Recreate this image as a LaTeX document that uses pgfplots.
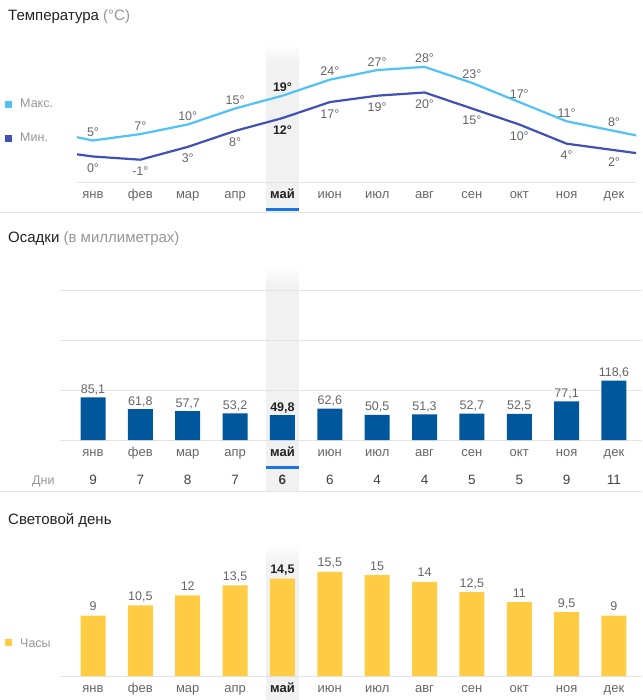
\documentclass[border=0pt]{standalone}
\usepackage{fontspec}
\setmainfont{Liberation Sans}
\usepackage{pgfplots}
\pgfplotsset{compat=1.18}

\definecolor{maxc}{RGB}{79,195,247}
\definecolor{minc}{RGB}{63,81,181}
\definecolor{rainc}{RGB}{1,87,155}
\definecolor{sunc}{RGB}{255,204,68}
\definecolor{bandc}{RGB}{241,241,241}
\definecolor{linec}{RGB}{228,228,228}
\definecolor{lab}{RGB}{102,102,102}
\definecolor{dark}{RGB}{34,34,34}
\definecolor{light}{RGB}{150,150,150}
\definecolor{selc}{RGB}{26,115,232}

\newcommand{\fs}[1]{\fontsize{#1}{#1}\selectfont}

\pgfplotsset{
  panel/.style={
    scale only axis, clip=false,
    axis line style={draw=none},
    major tick length=0,
    xtick={0,...,11},
    xticklabels={янв,фев,мар,апр,{\color{dark}\bfseries май},июн,июл,авг,сен,окт,ноя,дек},
    xticklabel style={anchor=base, yshift=-16pt, font=\fs{13}, text=lab},
    yticklabels={},
    ymajorgrids,
    major grid style={draw=linec, line width=1pt},
  },
  vals/.style={draw=none, no marks, nodes near coords, point meta=explicit symbolic,
    nodes near coords style={anchor=base, font=\fs{12.5}, text=lab}},
}

\begin{document}
\begin{tikzpicture}
\begin{scope}[x=1pt,y=1pt]
\fill[white] (0,0) rectangle (642,-700);
\path[use as bounding box] (0,0) rectangle (642,-700);

% selected month bands
\shade[top color=white, bottom color=bandc] (266,-44) rectangle (299,-64);
\fill[bandc] (266,-64) rectangle (299,-212);
\shade[top color=white, bottom color=bandc] (266,-266) rectangle (299,-286);
\fill[bandc] (266,-286) rectangle (299,-491);
\shade[top color=white, bottom color=bandc] (266,-544) rectangle (299,-564);
\fill[bandc] (266,-564) rectangle (299,-700);
\fill[selc] (266,-208.5) rectangle (299,-211.5);
\fill[selc] (266,-465.5) rectangle (299,-468.5);

% separators
\draw[linec, line width=1pt] (0,-212.5) -- (642,-212.5);
\draw[linec, line width=1pt] (0,-491.5) -- (642,-491.5);

% titles
\node[anchor=base west, inner sep=0, font=\fs{15}, text=dark] at (8,-21) {Температура \textcolor{light}{(°C)}};
\node[anchor=base west, inner sep=0, font=\fs{15}, text=dark] at (8,-243) {Осадки \textcolor{light}{(в миллиметрах)}};
\node[anchor=base west, inner sep=0, font=\fs{15}, text=dark] at (8,-524) {Световой день};

% legends
\fill[maxc] (5,-101) rectangle (12,-108);
\node[anchor=base west, inner sep=0, font=\fs{12.5}, text=light] at (20,-108) {Макс.};
\fill[minc] (5,-135) rectangle (12,-142);
\node[anchor=base west, inner sep=0, font=\fs{12.5}, text=light] at (20,-142) {Мин.};
\fill[sunc] (5,-639) rectangle (12,-646);
\node[anchor=base west, inner sep=0, font=\fs{12.5}, text=light] at (20,-647) {Часы};
\node[anchor=base west, inner sep=0, font=\fs{12.5}, text=light] at (32,-484) {Дни};
\end{scope}

% temperature
\begin{axis}[panel, at={(77pt,-183pt)}, anchor=south west, clip=true,
  width=559pt, height=135pt,
  xmin=-0.338, xmax=11.465, ymin=-8.28, ymax=33.9, ytick={-8.28}]
\addplot[maxc, line width=2.2pt] coordinates {(-1,8) (0,5) (1,7) (2,10) (3,15) (4,19) (5,24) (6,27) (7,28) (8,23) (9,17) (10,11) (11,8) (12,5)};
\addplot[minc, line width=2.2pt] coordinates {(-1,2) (0,0) (1,-1) (2,3) (3,8) (4,12) (5,17) (6,19) (7,20) (8,15) (9,10) (10,4) (11,2) (12,0)};
\addplot[vals, nodes near coords style={yshift=4pt}] coordinates {
  (0,5) [5°] (1,7) [7°] (2,10) [10°] (3,15) [15°] (4,19) [{\color{dark}\bfseries 19°}]
  (5,24) [24°] (6,27) [27°] (7,28) [28°] (8,23) [23°] (9,17) [17°] (10,11) [11°] (11,8) [8°]};
\addplot[vals, nodes near coords style={yshift=-16pt}] coordinates {
  (0,0) [0°] (1,-1) [-1°] (2,3) [3°] (3,8) [8°] (4,12) [{\color{dark}\bfseries 12°}]
  (5,17) [17°] (6,19) [19°] (7,20) [20°] (8,15) [15°] (9,10) [10°] (10,4) [4°] (11,2) [2°]};
\end{axis}

% precipitation
\begin{axis}[panel, at={(60pt,-440pt)}, anchor=south west,
  width=582pt, height=170pt,
  xmin=-0.697, xmax=11.592, ymin=0, ymax=340, ytick={0,100,200,300}]
\addplot[ybar, bar width=25pt, fill=rainc, draw=none] coordinates {
  (0,85.1) (1,61.8) (2,57.7) (3,53.2) (4,49.8) (5,62.6) (6,50.5) (7,51.3) (8,52.7) (9,52.5) (10,77.1) (11,118.6)};
\addplot[vals, nodes near coords style={yshift=4pt}] coordinates {
  (0,85.1) [{85,1}] (1,61.8) [{61,8}] (2,57.7) [{57,7}] (3,53.2) [{53,2}] (4,49.8) [{\color{dark}\bfseries 49,8}]
  (5,62.6) [{62,6}] (6,50.5) [{50,5}] (7,51.3) [{51,3}] (8,52.7) [{52,7}] (9,52.5) [{52,5}] (10,77.1) [{77,1}] (11,118.6) [{118,6}]};
\addplot[vals, nodes near coords style={font=\fs{13.5}, text=dark!85}] coordinates {
  (0,-88) [9] (1,-88) [7] (2,-88) [8] (3,-88) [7] (4,-88) [\bfseries 6] (5,-88) [6]
  (6,-88) [4] (7,-88) [4] (8,-88) [5] (9,-88) [5] (10,-88) [9] (11,-88) [11]};
\end{axis}

% daylight
\begin{axis}[panel, at={(60pt,-676pt)}, anchor=south west,
  width=582pt, height=128pt,
  xmin=-0.697, xmax=11.592, ymin=0, ymax=19.05, ytick={0}]
\addplot[ybar, bar width=25pt, fill=sunc, draw=none] coordinates {
  (0,9) (1,10.5) (2,12) (3,13.5) (4,14.5) (5,15.5) (6,15) (7,14) (8,12.5) (9,11) (10,9.5) (11,9)};
\addplot[vals, nodes near coords style={yshift=5pt}] coordinates {
  (0,9) [9] (1,10.5) [{10,5}] (2,12) [12] (3,13.5) [{13,5}] (4,14.5) [{\color{dark}\bfseries 14,5}]
  (5,15.5) [{15,5}] (6,15) [15] (7,14) [14] (8,12.5) [{12,5}] (9,11) [11] (10,9.5) [{9,5}] (11,9) [9]};
\end{axis}
\end{tikzpicture}
\end{document}
